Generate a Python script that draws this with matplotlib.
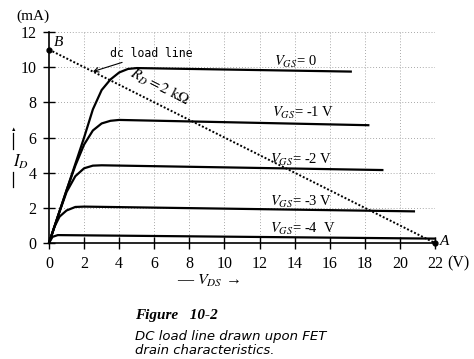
import matplotlib.pyplot as plt
import matplotlib.transforms as mtransforms

plt.rcParams['font.family'] = 'Liberation Serif'
plt.rcParams['mathtext.fontset'] = 'stix'

# drain characteristic curves (V_DS in V, I_D in mA)
vgs_labels = ['0', '-1 V', '-2 V', '-3 V', '-4  V']
vds_0 = [0, 1, 2, 2.5, 3, 3.5, 4, 4.5, 5, 17.2]
id_0 = [0, 3.0, 6.0, 7.6, 8.7, 9.3, 9.7, 9.9, 9.95, 9.75]
vds_1 = [0, 1, 1.5, 2, 2.5, 3, 3.5, 4, 18.2]
id_1 = [0, 3.0, 4.4, 5.6, 6.4, 6.8, 6.95, 7.0, 6.7]
vds_2 = [0, 0.5, 1, 1.5, 2, 2.5, 3, 19.0]
id_2 = [0, 1.5, 2.9, 3.8, 4.25, 4.4, 4.42, 4.15]
vds_3 = [0, 0.3, 0.6, 1, 1.5, 2, 20.8]
id_3 = [0, 0.9, 1.5, 1.85, 2.05, 2.07, 1.8]
vds_4 = [0, 0.2, 0.5, 22]
id_4 = [0, 0.35, 0.45, 0.25]
label_pos = [(12.8, 10.3), (12.7, 7.4), (12.6, 4.7), (12.6, 2.33), (12.6, 0.8)]

# dc load line end points
load_vds = [0, 22]
load_id = [11, 0]

xticks = list(range(0, 23, 2))
yticks = list(range(0, 13, 2))

fig = plt.figure(figsize=(4.74, 3.59), dpi=100)
ax = fig.add_axes([0.1034, 0.3231, 0.8143, 0.5877])
ax.set_xlim(0, 22)
ax.set_ylim(0, 12)

for x in xticks[1:]:
    ax.axvline(x, color='0.55', lw=0.6, ls=(0, (1, 2.5)), zorder=1)
for y in yticks[1:]:
    ax.axhline(y, color='0.55', lw=0.6, ls=(0, (1, 2.5)), zorder=1)

curves = [(vds_0, id_0), (vds_1, id_1), (vds_2, id_2), (vds_3, id_3), (vds_4, id_4)]
for (xs, ys), lab, pos in zip(curves, vgs_labels, label_pos):
    ax.plot(xs, ys, color='black', lw=1.6, solid_joinstyle='round', zorder=3, clip_on=False)
    ax.text(pos[0], pos[1], r'$V_{GS}$= ' + lab, fontsize=10.5, ha='left', va='center')

ax.plot(load_vds, load_id, color='black', lw=1.4, ls=(0, (1, 1)), zorder=4, clip_on=False)
ax.plot(load_vds, load_id, 'o', color='black', ms=3.5, zorder=5, clip_on=False)
ax.text(0.25, 11.4, 'B', fontsize=11, style='italic', ha='left', va='center')
ax.text(22.3, 0.1, 'A', fontsize=11, style='italic', ha='left', va='center')

ax.annotate('dc load line', xy=(2.5, 9.75), xytext=(3.5, 10.8), fontsize=8.3,
            family='DejaVu Sans Mono', ha='left', va='center',
            arrowprops=dict(arrowstyle='->', color='black', lw=0.8, shrinkA=0, shrinkB=0))
ax.text(6.3, 8.85, r'$R_D = 2\ \mathrm{k\Omega}$', fontsize=11, rotation=-27,
        rotation_mode='anchor', ha='center', va='center')

for s in ['top', 'right']:
    ax.spines[s].set_visible(False)
ax.spines['left'].set_linewidth(1.2)
ax.spines['bottom'].set_linewidth(1.2)
ax.set_xticks(xticks)
ax.set_yticks(yticks)
ax.tick_params(direction='inout', length=8, width=1, labelsize=11.5, pad=5)
trans = mtransforms.blended_transform_factory(ax.transData, ax.transAxes)
ax.text(22.7, -0.095, '(V)', fontsize=11.5, transform=trans, ha='left', va='center')

fig.text(0.07, 0.955, '(mA)', fontsize=11, ha='center', va='center')
fig.text(0.045, 0.548, r'$I_D$', fontsize=12, ha='center', va='center')
fig.add_artist(plt.Line2D([0.028, 0.028], [0.585, 0.63], color='black', lw=0.9))
fig.text(0.028, 0.64, '\u25b2', fontsize=4, ha='center', va='center')
fig.add_artist(plt.Line2D([0.028, 0.028], [0.48, 0.52], color='black', lw=0.9))
fig.text(0.44, 0.218, r'— $V_{DS}$ →', fontsize=11.5, ha='center', va='center')

fig.text(0.285, 0.12, 'Figure   10-2', fontsize=11, weight='bold', style='italic', ha='left', va='center')
fig.text(0.285, 0.063, 'DC load line drawn upon FET', fontsize=9.5, family='DejaVu Sans',
         style='italic', ha='left', va='center')
fig.text(0.285, 0.025, 'drain characteristics.', fontsize=9.5, family='DejaVu Sans',
         style='italic', ha='left', va='center')

fig.savefig('out.png', dpi=100)
